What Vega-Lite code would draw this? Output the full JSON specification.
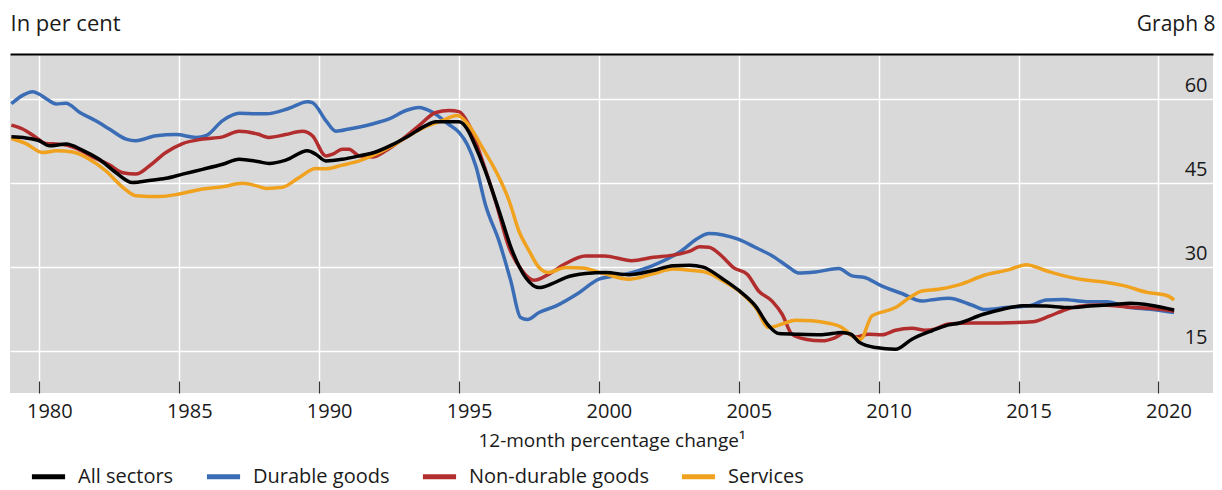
{
  "$schema": "https://vega.github.io/schema/vega-lite/v6.json",
  "width": 1203,
  "height": 338,
  "autosize": {"type": "none"},
  "padding": {"left": 10, "top": 55, "right": 9, "bottom": 97},
  "background": "white",
  "config": {
    "view": {"fill": "#d9d9d9", "stroke": null},
    "font": "Open Sans",
    "axis": {"labelFont": "Open Sans", "titleFont": "Open Sans", "labelColor": "#1a1a1a", "titleColor": "#1a1a1a", "titleFontWeight": "normal"}
  },
  "data": {"values": [
    {"series":"Durable goods","year":1979.0,"value":59.1},
    {"series":"Durable goods","year":1979.4,"value":60.6},
    {"series":"Durable goods","year":1979.76,"value":61.25},
    {"series":"Durable goods","year":1980.0,"value":60.8},
    {"series":"Durable goods","year":1980.3,"value":59.8},
    {"series":"Durable goods","year":1980.6,"value":59.05},
    {"series":"Durable goods","year":1980.95,"value":59.2},
    {"series":"Durable goods","year":1981.43,"value":57.6},
    {"series":"Durable goods","year":1982.0,"value":56.1},
    {"series":"Durable goods","year":1982.5,"value":54.6},
    {"series":"Durable goods","year":1983.1,"value":52.8},
    {"series":"Durable goods","year":1983.45,"value":52.5},
    {"series":"Durable goods","year":1984.17,"value":53.4},
    {"series":"Durable goods","year":1984.88,"value":53.6},
    {"series":"Durable goods","year":1985.6,"value":53.1},
    {"series":"Durable goods","year":1985.95,"value":53.4},
    {"series":"Durable goods","year":1986.55,"value":56.1},
    {"series":"Durable goods","year":1987.14,"value":57.4},
    {"series":"Durable goods","year":1987.74,"value":57.3},
    {"series":"Durable goods","year":1988.1,"value":57.3},
    {"series":"Durable goods","year":1988.93,"value":58.3},
    {"series":"Durable goods","year":1989.58,"value":59.46},
    {"series":"Durable goods","year":1989.76,"value":59.3},
    {"series":"Durable goods","year":1990.24,"value":56.1},
    {"series":"Durable goods","year":1990.6,"value":54.2},
    {"series":"Durable goods","year":1991.07,"value":54.6},
    {"series":"Durable goods","year":1991.9,"value":55.5},
    {"series":"Durable goods","year":1992.5,"value":56.4},
    {"series":"Durable goods","year":1993.1,"value":57.9},
    {"series":"Durable goods","year":1993.57,"value":58.45},
    {"series":"Durable goods","year":1994.05,"value":57.6},
    {"series":"Durable goods","year":1994.64,"value":55.4},
    {"series":"Durable goods","year":1995.0,"value":54.0},
    {"series":"Durable goods","year":1995.3,"value":51.8},
    {"series":"Durable goods","year":1995.6,"value":48.0},
    {"series":"Durable goods","year":1995.95,"value":41.0},
    {"series":"Durable goods","year":1996.43,"value":34.6},
    {"series":"Durable goods","year":1996.85,"value":27.5},
    {"series":"Durable goods","year":1997.2,"value":20.95},
    {"series":"Durable goods","year":1997.44,"value":20.6},
    {"series":"Durable goods","year":1997.86,"value":21.85},
    {"series":"Durable goods","year":1998.45,"value":23.0},
    {"series":"Durable goods","year":1999.29,"value":25.4},
    {"series":"Durable goods","year":2000.0,"value":27.8},
    {"series":"Durable goods","year":2000.95,"value":28.7},
    {"series":"Durable goods","year":2001.9,"value":30.2},
    {"series":"Durable goods","year":2002.86,"value":32.55},
    {"series":"Durable goods","year":2003.57,"value":35.2},
    {"series":"Durable goods","year":2003.93,"value":35.95},
    {"series":"Durable goods","year":2004.44,"value":35.7},
    {"series":"Durable goods","year":2005.0,"value":34.9},
    {"series":"Durable goods","year":2005.6,"value":33.45},
    {"series":"Durable goods","year":2006.2,"value":31.96},
    {"series":"Durable goods","year":2006.8,"value":29.9},
    {"series":"Durable goods","year":2007.14,"value":28.9},
    {"series":"Durable goods","year":2007.74,"value":29.1},
    {"series":"Durable goods","year":2008.57,"value":29.7},
    {"series":"Durable goods","year":2009.05,"value":28.4},
    {"series":"Durable goods","year":2009.5,"value":28.1},
    {"series":"Durable goods","year":2010.1,"value":26.6},
    {"series":"Durable goods","year":2010.83,"value":25.25},
    {"series":"Durable goods","year":2011.55,"value":23.9},
    {"series":"Durable goods","year":2012.0,"value":24.2},
    {"series":"Durable goods","year":2012.5,"value":24.4},
    {"series":"Durable goods","year":2013.35,"value":23.15},
    {"series":"Durable goods","year":2013.8,"value":22.4},
    {"series":"Durable goods","year":2014.55,"value":22.75},
    {"series":"Durable goods","year":2015.39,"value":23.05},
    {"series":"Durable goods","year":2015.99,"value":24.1},
    {"series":"Durable goods","year":2016.59,"value":24.2},
    {"series":"Durable goods","year":2017.43,"value":23.8},
    {"series":"Durable goods","year":2018.16,"value":23.8},
    {"series":"Durable goods","year":2018.88,"value":22.85},
    {"series":"Durable goods","year":2019.72,"value":22.45},
    {"series":"Durable goods","year":2020.56,"value":21.85},

    {"series":"Non-durable goods","year":1979.0,"value":55.3},
    {"series":"Non-durable goods","year":1979.4,"value":54.6},
    {"series":"Non-durable goods","year":1979.88,"value":53.1},
    {"series":"Non-durable goods","year":1980.24,"value":52.0},
    {"series":"Non-durable goods","year":1980.71,"value":51.9},
    {"series":"Non-durable goods","year":1981.3,"value":51.2},
    {"series":"Non-durable goods","year":1981.9,"value":49.6},
    {"series":"Non-durable goods","year":1982.5,"value":48.2},
    {"series":"Non-durable goods","year":1982.98,"value":46.8},
    {"series":"Non-durable goods","year":1983.45,"value":46.55},
    {"series":"Non-durable goods","year":1983.93,"value":48.0},
    {"series":"Non-durable goods","year":1984.52,"value":50.4},
    {"series":"Non-durable goods","year":1985.12,"value":52.0},
    {"series":"Non-durable goods","year":1985.83,"value":52.8},
    {"series":"Non-durable goods","year":1986.55,"value":53.2},
    {"series":"Non-durable goods","year":1987.14,"value":54.2},
    {"series":"Non-durable goods","year":1987.8,"value":53.7},
    {"series":"Non-durable goods","year":1988.2,"value":53.1},
    {"series":"Non-durable goods","year":1988.8,"value":53.6},
    {"series":"Non-durable goods","year":1989.4,"value":54.2},
    {"series":"Non-durable goods","year":1989.76,"value":53.4},
    {"series":"Non-durable goods","year":1990.24,"value":49.8},
    {"series":"Non-durable goods","year":1990.48,"value":50.1},
    {"series":"Non-durable goods","year":1990.83,"value":51.0},
    {"series":"Non-durable goods","year":1991.07,"value":51.0},
    {"series":"Non-durable goods","year":1991.43,"value":49.8},
    {"series":"Non-durable goods","year":1991.9,"value":49.6},
    {"series":"Non-durable goods","year":1992.38,"value":50.7},
    {"series":"Non-durable goods","year":1992.98,"value":52.8},
    {"series":"Non-durable goods","year":1993.57,"value":55.2},
    {"series":"Non-durable goods","year":1994.17,"value":57.55},
    {"series":"Non-durable goods","year":1994.64,"value":57.9},
    {"series":"Non-durable goods","year":1995.0,"value":57.7},
    {"series":"Non-durable goods","year":1995.36,"value":55.3},
    {"series":"Non-durable goods","year":1995.83,"value":49.0},
    {"series":"Non-durable goods","year":1996.3,"value":41.8},
    {"series":"Non-durable goods","year":1996.79,"value":33.45},
    {"series":"Non-durable goods","year":1997.26,"value":29.3},
    {"series":"Non-durable goods","year":1997.68,"value":27.6},
    {"series":"Non-durable goods","year":1998.21,"value":28.7},
    {"series":"Non-durable goods","year":1998.81,"value":30.6},
    {"series":"Non-durable goods","year":1999.52,"value":31.96},
    {"series":"Non-durable goods","year":2000.2,"value":31.96},
    {"series":"Non-durable goods","year":2001.17,"value":31.1},
    {"series":"Non-durable goods","year":2001.95,"value":31.7},
    {"series":"Non-durable goods","year":2002.65,"value":32.1},
    {"series":"Non-durable goods","year":2003.25,"value":32.8},
    {"series":"Non-durable goods","year":2003.6,"value":33.6},
    {"series":"Non-durable goods","year":2003.93,"value":33.5},
    {"series":"Non-durable goods","year":2004.44,"value":31.7},
    {"series":"Non-durable goods","year":2004.8,"value":29.9},
    {"series":"Non-durable goods","year":2005.3,"value":28.7},
    {"series":"Non-durable goods","year":2005.71,"value":25.7},
    {"series":"Non-durable goods","year":2006.19,"value":23.9},
    {"series":"Non-durable goods","year":2006.55,"value":21.55},
    {"series":"Non-durable goods","year":2006.9,"value":18.0},
    {"series":"Non-durable goods","year":2007.38,"value":17.1},
    {"series":"Non-durable goods","year":2007.98,"value":16.8},
    {"series":"Non-durable goods","year":2008.45,"value":17.4},
    {"series":"Non-durable goods","year":2008.81,"value":18.3},
    {"series":"Non-durable goods","year":2009.17,"value":17.5},
    {"series":"Non-durable goods","year":2009.64,"value":18.0},
    {"series":"Non-durable goods","year":2010.12,"value":17.9},
    {"series":"Non-durable goods","year":2010.6,"value":18.7},
    {"series":"Non-durable goods","year":2011.19,"value":19.05},
    {"series":"Non-durable goods","year":2011.67,"value":18.7},
    {"series":"Non-durable goods","year":2012.0,"value":18.9},
    {"series":"Non-durable goods","year":2012.5,"value":19.8},
    {"series":"Non-durable goods","year":2013.35,"value":19.98},
    {"series":"Non-durable goods","year":2014.3,"value":20.0},
    {"series":"Non-durable goods","year":2015.5,"value":20.2},
    {"series":"Non-durable goods","year":2016.1,"value":21.2},
    {"series":"Non-durable goods","year":2016.7,"value":22.4},
    {"series":"Non-durable goods","year":2017.19,"value":23.0},
    {"series":"Non-durable goods","year":2017.91,"value":23.2},
    {"series":"Non-durable goods","year":2018.88,"value":22.85},
    {"series":"Non-durable goods","year":2019.72,"value":22.6},
    {"series":"Non-durable goods","year":2020.56,"value":22.1},

    {"series":"Services","year":1979.0,"value":52.9},
    {"series":"Services","year":1979.52,"value":52.0},
    {"series":"Services","year":1980.12,"value":50.4},
    {"series":"Services","year":1980.6,"value":50.7},
    {"series":"Services","year":1981.19,"value":50.5},
    {"series":"Services","year":1981.79,"value":49.2},
    {"series":"Services","year":1982.38,"value":47.1},
    {"series":"Services","year":1982.98,"value":44.2},
    {"series":"Services","year":1983.45,"value":42.7},
    {"series":"Services","year":1984.29,"value":42.55},
    {"series":"Services","year":1985.0,"value":43.0},
    {"series":"Services","year":1985.83,"value":43.9},
    {"series":"Services","year":1986.55,"value":44.3},
    {"series":"Services","year":1987.26,"value":44.9},
    {"series":"Services","year":1987.8,"value":44.4},
    {"series":"Services","year":1988.1,"value":44.0},
    {"series":"Services","year":1988.69,"value":44.2},
    {"series":"Services","year":1989.29,"value":45.95},
    {"series":"Services","year":1989.88,"value":47.55},
    {"series":"Services","year":1990.24,"value":47.5},
    {"series":"Services","year":1990.83,"value":48.15},
    {"series":"Services","year":1991.43,"value":48.9},
    {"series":"Services","year":1992.02,"value":50.1},
    {"series":"Services","year":1992.62,"value":51.6},
    {"series":"Services","year":1993.21,"value":53.4},
    {"series":"Services","year":1993.81,"value":55.0},
    {"series":"Services","year":1994.4,"value":56.1},
    {"series":"Services","year":1994.94,"value":57.0},
    {"series":"Services","year":1995.36,"value":55.2},
    {"series":"Services","year":1995.83,"value":51.3},
    {"series":"Services","year":1996.43,"value":45.95},
    {"series":"Services","year":1996.79,"value":41.8},
    {"series":"Services","year":1997.14,"value":36.4},
    {"series":"Services","year":1997.5,"value":32.9},
    {"series":"Services","year":1997.86,"value":29.9},
    {"series":"Services","year":1998.21,"value":29.0},
    {"series":"Services","year":1998.81,"value":29.9},
    {"series":"Services","year":1999.4,"value":29.8},
    {"series":"Services","year":2000.24,"value":28.7},
    {"series":"Services","year":2001.07,"value":27.8},
    {"series":"Services","year":2001.9,"value":28.7},
    {"series":"Services","year":2002.65,"value":29.6},
    {"series":"Services","year":2003.25,"value":29.4},
    {"series":"Services","year":2003.85,"value":29.0},
    {"series":"Services","year":2004.44,"value":27.5},
    {"series":"Services","year":2005.0,"value":25.7},
    {"series":"Services","year":2005.6,"value":22.75},
    {"series":"Services","year":2006.07,"value":19.2},
    {"series":"Services","year":2006.55,"value":19.8},
    {"series":"Services","year":2007.02,"value":20.5},
    {"series":"Services","year":2007.62,"value":20.4},
    {"series":"Services","year":2008.21,"value":19.95},
    {"series":"Services","year":2008.69,"value":19.2},
    {"series":"Services","year":2009.05,"value":17.7},
    {"series":"Services","year":2009.35,"value":17.1},
    {"series":"Services","year":2009.76,"value":21.25},
    {"series":"Services","year":2010.24,"value":22.1},
    {"series":"Services","year":2010.6,"value":22.75},
    {"series":"Services","year":2011.07,"value":24.4},
    {"series":"Services","year":2011.55,"value":25.7},
    {"series":"Services","year":2012.14,"value":26.0},
    {"series":"Services","year":2012.86,"value":26.8},
    {"series":"Services","year":2013.83,"value":28.6},
    {"series":"Services","year":2014.67,"value":29.5},
    {"series":"Services","year":2015.27,"value":30.4},
    {"series":"Services","year":2015.99,"value":29.3},
    {"series":"Services","year":2016.71,"value":28.3},
    {"series":"Services","year":2017.31,"value":27.7},
    {"series":"Services","year":2018.04,"value":27.3},
    {"series":"Services","year":2018.76,"value":26.65},
    {"series":"Services","year":2019.6,"value":25.45},
    {"series":"Services","year":2020.32,"value":24.85},
    {"series":"Services","year":2020.56,"value":24.1},

    {"series":"All sectors","year":1979.0,"value":53.2},
    {"series":"All sectors","year":1979.52,"value":53.0},
    {"series":"All sectors","year":1980.0,"value":52.5},
    {"series":"All sectors","year":1980.36,"value":51.6},
    {"series":"All sectors","year":1980.95,"value":51.9},
    {"series":"All sectors","year":1981.55,"value":50.8},
    {"series":"All sectors","year":1982.14,"value":49.2},
    {"series":"All sectors","year":1982.74,"value":46.8},
    {"series":"All sectors","year":1983.33,"value":45.05},
    {"series":"All sectors","year":1983.93,"value":45.4},
    {"series":"All sectors","year":1984.52,"value":45.8},
    {"series":"All sectors","year":1985.12,"value":46.55},
    {"series":"All sectors","year":1985.83,"value":47.4},
    {"series":"All sectors","year":1986.55,"value":48.3},
    {"series":"All sectors","year":1987.14,"value":49.2},
    {"series":"All sectors","year":1987.8,"value":48.8},
    {"series":"All sectors","year":1988.21,"value":48.45},
    {"series":"All sectors","year":1988.81,"value":49.05},
    {"series":"All sectors","year":1989.58,"value":50.7},
    {"series":"All sectors","year":1989.88,"value":50.1},
    {"series":"All sectors","year":1990.24,"value":48.9},
    {"series":"All sectors","year":1990.83,"value":49.2},
    {"series":"All sectors","year":1991.43,"value":49.8},
    {"series":"All sectors","year":1992.02,"value":50.5},
    {"series":"All sectors","year":1992.62,"value":51.8},
    {"series":"All sectors","year":1993.21,"value":53.4},
    {"series":"All sectors","year":1993.81,"value":55.2},
    {"series":"All sectors","year":1994.17,"value":55.9},
    {"series":"All sectors","year":1995.0,"value":55.9},
    {"series":"All sectors","year":1995.36,"value":54.0},
    {"series":"All sectors","year":1995.5,"value":52.5},
    {"series":"All sectors","year":1995.95,"value":47.0},
    {"series":"All sectors","year":1996.43,"value":40.0},
    {"series":"All sectors","year":1996.9,"value":32.9},
    {"series":"All sectors","year":1997.38,"value":28.1},
    {"series":"All sectors","year":1997.86,"value":26.3},
    {"series":"All sectors","year":1998.33,"value":27.0},
    {"series":"All sectors","year":1998.81,"value":28.1},
    {"series":"All sectors","year":1999.52,"value":28.8},
    {"series":"All sectors","year":2000.24,"value":29.0},
    {"series":"All sectors","year":2001.07,"value":28.6},
    {"series":"All sectors","year":2001.9,"value":29.3},
    {"series":"All sectors","year":2002.65,"value":30.2},
    {"series":"All sectors","year":2003.25,"value":30.3},
    {"series":"All sectors","year":2003.7,"value":30.0},
    {"series":"All sectors","year":2004.44,"value":27.8},
    {"series":"All sectors","year":2005.0,"value":25.8},
    {"series":"All sectors","year":2005.6,"value":23.0},
    {"series":"All sectors","year":2006.07,"value":19.5},
    {"series":"All sectors","year":2006.43,"value":18.1},
    {"series":"All sectors","year":2007.02,"value":18.0},
    {"series":"All sectors","year":2007.98,"value":17.9},
    {"series":"All sectors","year":2008.69,"value":18.3},
    {"series":"All sectors","year":2009.0,"value":18.0},
    {"series":"All sectors","year":2009.32,"value":16.5},
    {"series":"All sectors","year":2009.9,"value":15.6},
    {"series":"All sectors","year":2010.6,"value":15.3},
    {"series":"All sectors","year":2011.19,"value":17.1},
    {"series":"All sectors","year":2011.9,"value":18.6},
    {"series":"All sectors","year":2012.5,"value":19.65},
    {"series":"All sectors","year":2012.86,"value":19.95},
    {"series":"All sectors","year":2013.71,"value":21.5},
    {"series":"All sectors","year":2014.43,"value":22.45},
    {"series":"All sectors","year":2015.15,"value":23.05},
    {"series":"All sectors","year":2015.99,"value":23.0},
    {"series":"All sectors","year":2016.71,"value":22.75},
    {"series":"All sectors","year":2017.55,"value":23.0},
    {"series":"All sectors","year":2018.4,"value":23.3},
    {"series":"All sectors","year":2019.0,"value":23.5},
    {"series":"All sectors","year":2019.72,"value":23.15},
    {"series":"All sectors","year":2020.56,"value":22.3}
  ]},
  "resolve": {"axis": {"x": "independent"}},
  "layer": [
    {
      "mark": {"type": "line", "strokeWidth": 3.5, "interpolate": "monotone", "clip": true},
      "encoding": {
        "x": {
          "field": "year", "type": "quantitative",
          "scale": {"domain": [1978.95, 2021.95], "nice": false, "zero": false},
          "axis": {
            "orient": "bottom", "values": [1980, 1985, 1990, 1995, 2000, 2005, 2010, 2015, 2020], "format": "d",
            "grid": true, "gridColor": "#ffffff", "gridWidth": 1.5,
            "domain": false, "ticks": true, "tickSize": -12, "tickColor": "#333333", "tickWidth": 1.2,
            "labelFontSize": 20, "labelOffset": 10, "labelPadding": 20, "labelFlush": false, "labelOverlap": false,
            "title": "12-month percentage change¹", "titleFontSize": 19, "titlePadding": 10
          }
        },
        "y": {
          "field": "value", "type": "quantitative",
          "scale": {"domain": [7.5, 67.8], "nice": false, "zero": false},
          "axis": {
            "orient": "right", "values": [15, 30, 45, 60], "grid": true, "gridColor": "#ffffff", "gridWidth": 1.5,
            "domain": false, "ticks": false, "tickSize": 0,
            "labelFontSize": 20, "labelAlign": "right", "labelPadding": -6, "labelBaseline": "alphabetic", "labelOffset": -7,
            "title": "Graph 8", "titleAngle": 0, "titleAlign": "right", "titleBaseline": "alphabetic",
            "titleX": 2, "titleY": -25, "titleFontSize": 21
          }
        },
        "color": {
          "field": "series", "type": "nominal",
          "scale": {"domain": ["All sectors", "Durable goods", "Non-durable goods", "Services"], "range": ["#000000", "#3a6db5", "#b22d2d", "#f0a21f"]},
          "legend": {
            "orient": "none", "legendX": 19, "legendY": 402, "direction": "horizontal", "title": null,
            "symbolType": "stroke", "symbolSize": 1100, "symbolStrokeWidth": 5,
            "labelFontSize": 20, "labelFont": "Open Sans", "labelColor": "#1a1a1a", "labelOffset": 10, "columnPadding": 22, "labelLimit": 0
          }
        }
      }
    },
    {
      "mark": {"type": "point", "opacity": 0, "size": 0},
      "encoding": {
        "x": {
          "field": "year", "type": "quantitative",
          "axis": {
            "orient": "top", "grid": false, "labels": false, "ticks": false, "domain": true,
            "domainColor": "#000000", "domainWidth": 2, "offset": 1,
            "title": "In per cent", "titleAnchor": "start", "titleAlign": "left", "titleBaseline": "alphabetic",
            "titleX": 0, "titleY": -24, "titleFontSize": 22
          }
        }
      }
    }
  ]
}
